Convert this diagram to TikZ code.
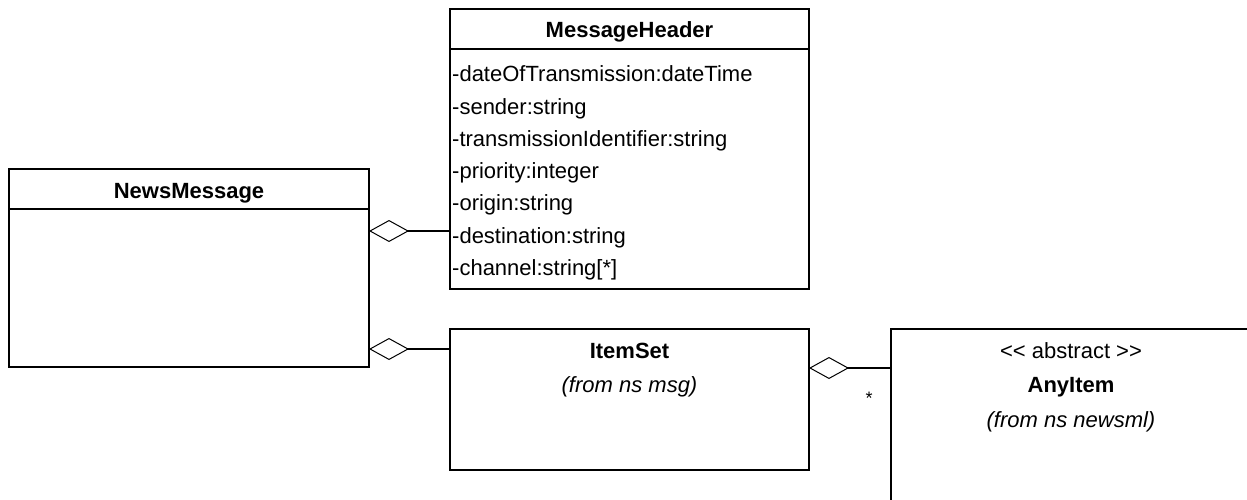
\documentclass[tikz,border=0pt]{standalone}
\usepackage{fontspec}
\setmainfont{Liberation Sans}
\usetikzlibrary{arrows.meta,calc}

\begin{document}
\begin{tikzpicture}[x=1pt,y=-1pt,
  cls/.style={draw, line width=1.5pt, inner sep=0pt, outer sep=0pt, anchor=north west},
  attr/.style={anchor=base west, inner sep=0pt, font=\fontsize{22}{26}\selectfont},
  ctitle/.style={anchor=base, inner sep=0pt, font=\fontsize{22}{26}\selectfont\bfseries},
  stereo/.style={anchor=base, inner sep=0pt, font=\fontsize{22}{26}\selectfont},
  origin/.style={anchor=base, inner sep=0pt, font=\fontsize{22}{26}\selectfont\itshape},
  divider/.style={line width=1.5pt},
  agg/.style={line width=1.5pt, -{Diamond[open, length=40pt, width=22pt, line width=1pt]}}
]
\fill[white] (0,0) rectangle (1247,500);
\useasboundingbox (0,0) rectangle (1247,500);
\clip (0,0) rectangle (1247,500);

% class boxes
\node[cls, minimum width=360pt, minimum height=198pt] (nm) at (9,169) {};
\node[cls, minimum width=359pt, minimum height=280pt] (mh) at (450,9) {};
\node[cls, minimum width=359pt, minimum height=141pt] (is) at (450,329) {};
\node[cls, minimum width=360pt, minimum height=200pt] (ai) at (891,329) {};

% compartment dividers
\draw[divider] ($(nm.north west)+(0,40)$) -- ($(nm.north east)+(0,40)$);
\draw[divider] ($(mh.north west)+(0,40)$) -- ($(mh.north east)+(0,40)$);

% names
\node[ctitle] (nmt) at ($(nm.north)+(0,29)$) {NewsMessage};
\node[ctitle] (mht) at ($(mh.north)+(0,29)$) {MessageHeader};
\node[ctitle] (ist) at ($(is.north)+(0,29)$) {ItemSet};
\node[origin] (iso) at ($(is.north)+(0,63)$) {(from ns msg)};
\node[stereo] (ais) at ($(ai.north)+(0,29)$) {{<}{<} abstract {>}{>}};
\node[ctitle] (ait) at ($(ai.north)+(0,63)$) {AnyItem};
\node[origin] (aio) at ($(ai.north)+(0,98)$) {(from ns newsml)};

% MessageHeader attributes
\node[attr] (a1) at ($(mh.north west)+(2,73)$) {-dateOfTransmission:dateTime};
\node[attr] (a2) at ($(mh.north west)+(2,105.2)$) {-sender:string};
\node[attr] (a3) at ($(mh.north west)+(2,137.4)$) {-transmissionIdentifier:string};
\node[attr] (a4) at ($(mh.north west)+(2,169.6)$) {-priority:integer};
\node[attr] (a5) at ($(mh.north west)+(2,201.8)$) {-origin:string};
\node[attr] (a6) at ($(mh.north west)+(2,234)$) {-destination:string};
\node[attr] (a7) at ($(mh.north west)+(2,266.2)$) {-channel:string[*]};

% aggregation connectors
\coordinate (j1) at (0,231);
\coordinate (j2) at (0,349);
\coordinate (j3) at (0,368);
\draw[agg] (mh.west |- j1) -- (nm.east |- j1);
\draw[agg] (is.west |- j2) -- (nm.east |- j2);
\draw[agg] (ai.west |- j3) -- (is.east |- j3);

% multiplicity
\node[anchor=base, inner sep=0pt, font=\fontsize{18}{18}\selectfont] (mult)
  at ($(ai.west |- j3)+(-22,36)$) {*};
\end{tikzpicture}
\end{document}
